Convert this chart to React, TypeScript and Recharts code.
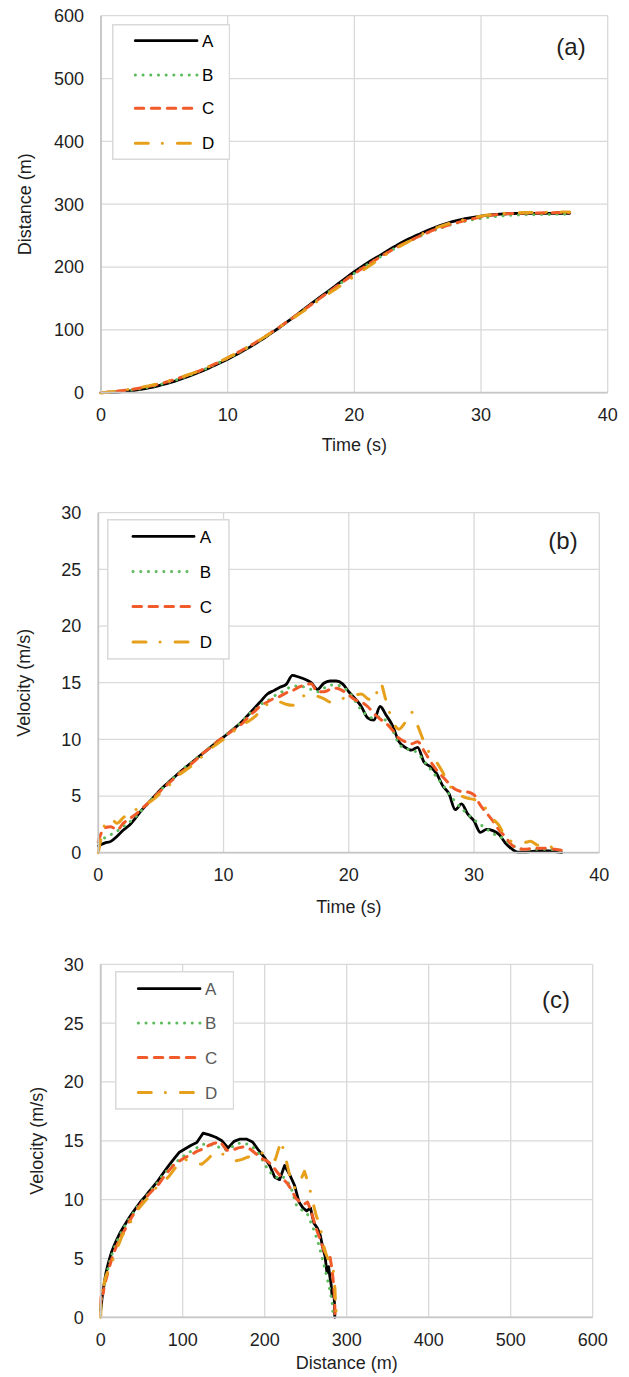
import React from 'react';
import { LineChart, Line, XAxis, YAxis, CartesianGrid, Legend } from 'recharts';

const FONT = '"Liberation Sans", Arial, Helvetica, sans-serif';

// time grid (s)
const TIME = [
  0, 0.5, 1, 1.5, 2, 2.5, 3, 3.5, 4, 4.5,
  5, 5.5, 6, 6.5, 7, 7.5, 8, 8.5, 9, 9.5,
  10, 10.5, 11, 11.5, 12, 12.5, 13, 13.5, 14, 14.5,
  15, 15.5, 16, 16.5, 17, 17.5, 18, 18.5, 19, 19.5,
  20, 20.5, 21, 21.5, 22, 22.5, 23, 23.5, 24, 24.5,
  25, 25.5, 26, 26.5, 27, 27.5, 28, 28.5, 29, 29.5,
  30, 30.5, 31, 31.5, 32, 32.5, 33, 33.5, 34, 34.5,
  35, 35.5, 36, 36.5, 37,
];

// distance (m)
const A_DIST = [
  0, 0.4, 0.8, 1.4, 2.3, 3.4, 4.8, 6.5, 8.5, 10.9,
  13.5, 16.4, 19.6, 23.0, 26.7, 30.6, 34.7, 39.0, 43.6, 48.4,
  53.4, 58.6, 64.0, 69.7, 75.7, 82.0, 88.6, 95.5, 102.6, 109.8,
  117.2, 124.8, 132.6, 140.3, 147.9, 155.3, 162.6, 170.1, 177.7, 185.2,
  192.5, 199.5, 206.1, 212.3, 218.2, 224.3, 230.6, 236.5, 241.8, 246.6,
  251.2, 255.8, 260.1, 264.0, 267.7, 270.9, 273.6, 275.9, 277.9, 279.6,
  281.0, 282.2, 283.2, 284.1, 284.8, 285.2, 285.4, 285.5, 285.5, 285.5,
  285.5, 285.5, 285.5, 285.5, 285.5,
];
const B_DIST = [
  0, 0.6, 1.3, 2.2, 3.2, 4.4, 5.9, 7.7, 9.7, 12.1,
  14.7, 17.6, 20.8, 24.2, 27.9, 31.8, 35.9, 40.2, 44.8, 49.6,
  54.6, 59.8, 65.2, 70.9, 76.9, 83.1, 89.5, 96.1, 102.9, 109.9,
  117.0, 124.3, 131.6, 139.0, 146.3, 153.5, 160.7, 168.0, 175.4, 182.8,
  190.0, 196.9, 203.4, 209.6, 215.6, 221.6, 227.5, 233.1, 238.2, 242.9,
  247.4, 251.9, 256.1, 260.0, 263.5, 266.7, 269.5, 272.0, 274.1, 275.9,
  277.5, 278.9, 280.1, 281.1, 281.9, 282.5, 282.9, 283.1, 283.3, 283.4,
  283.6, 283.7, 283.9, 284.0, 284.1,
];
const C_DIST = [
  0, 0.8, 1.9, 3.0, 4.2, 5.6, 7.2, 9.0, 11.1, 13.5,
  16.1, 19.0, 22.1, 25.5, 29.1, 32.9, 36.9, 41.2, 45.7, 50.5,
  55.5, 60.7, 66.1, 71.7, 77.5, 83.6, 90.0, 96.6, 103.3, 110.2,
  117.2, 124.3, 131.5, 138.8, 146.2, 153.5, 160.6, 167.8, 175.0, 182.2,
  189.3, 196.1, 202.8, 209.3, 215.6, 221.6, 227.4, 232.9, 238.1, 243.0,
  247.8, 252.3, 256.6, 260.5, 264.0, 267.2, 270.1, 272.7, 275.1, 277.5,
  279.8, 281.7, 283.0, 284.0, 284.8, 285.3, 285.6, 285.8, 285.9, 286.1,
  286.3, 286.5, 286.7, 286.8, 286.9,
];
const D_DIST = [
  0, 0.7, 2.0, 3.4, 4.8, 6.4, 8.1, 10.0, 12.1, 14.4,
  16.9, 19.6, 22.6, 25.9, 29.4, 33.1, 37.1, 41.4, 45.9, 50.6,
  55.6, 60.8, 66.1, 71.7, 77.5, 83.5, 89.8, 96.3, 103.0, 109.8,
  116.4, 123.2, 130.0, 137.0, 144.1, 151.1, 158.0, 164.8, 171.6, 178.4,
  185.3, 192.2, 199.2, 206.1, 212.9, 220.0, 226.3, 232.0, 237.4, 242.8,
  248.5, 254.0, 258.7, 262.6, 266.2, 269.4, 272.2, 274.7, 277.0, 279.1,
  281.0, 282.7, 284.0, 285.0, 285.7, 286.2, 286.5, 286.7, 286.9, 287.1,
  287.2, 287.3, 287.4, 287.5, 287.5,
];

// velocity (m/s)
const A_VEL = [
  0.6, 0.85, 1.0, 1.45, 2.0, 2.45, 3.1, 3.8, 4.4, 5.0,
  5.6, 6.1, 6.6, 7.1, 7.55, 8.0, 8.45, 8.9, 9.35, 9.8,
  10.2, 10.65, 11.1, 11.6, 12.2, 12.8, 13.4, 14.0, 14.3, 14.6,
  14.85, 15.65, 15.5, 15.3, 15.0, 14.4, 14.95, 15.15, 15.15, 14.9,
  14.2, 13.6, 12.9, 11.9, 11.7, 12.9, 12.1, 11.2, 9.8, 9.3,
  9.05, 9.3, 8.0, 7.6, 7.0, 5.9, 5.2, 3.8, 4.3, 3.4,
  2.8, 1.8, 2.05, 1.95, 1.6, 0.85, 0.35, 0.05, 0.05, 0.1,
  0.15, 0.17, 0.15, 0.1, 0.0,
];
const B_VEL = [
  0.9, 1.3, 1.6, 1.9, 2.3, 2.7, 3.2, 3.8, 4.4, 5.0,
  5.55, 6.1, 6.6, 7.1, 7.6, 8.0, 8.5, 8.9, 9.4, 9.8,
  10.2, 10.7, 11.1, 11.6, 12.2, 12.6, 13.1, 13.4, 13.8, 14.1,
  14.4, 14.7, 14.7, 14.6, 14.4, 14.2, 14.5, 14.8, 14.8, 14.6,
  14.2, 13.4, 12.6, 12.1, 11.85, 12.0, 11.6, 10.8, 9.6, 9.2,
  9.05, 8.8, 8.1, 7.4, 6.7, 6.0, 5.2, 4.5, 3.9, 3.4,
  2.9, 2.5, 2.1, 1.7, 1.45, 1.1, 0.7, 0.4, 0.3, 0.3,
  0.3, 0.3, 0.3, 0.25, 0.2,
];
const C_VEL = [
  1.0, 2.2, 2.3, 2.0, 2.6, 3.0, 3.4, 3.9, 4.4, 4.95,
  5.5, 6.0, 6.5, 7.0, 7.4, 7.9, 8.4, 8.9, 9.3, 9.8,
  10.2, 10.6, 11.0, 11.4, 12.0, 12.5, 13.0, 13.3, 13.6, 13.8,
  14.1, 14.3, 14.6, 14.8, 14.9, 14.2, 14.2, 14.4, 14.5, 14.3,
  13.9, 13.5, 13.3, 12.9, 12.3, 11.8, 11.4, 10.8, 10.1, 9.8,
  9.6, 9.8, 9.0, 8.1, 7.3, 6.7, 6.1, 5.6, 5.4, 5.35,
  5.1, 4.2, 3.5, 2.8, 2.0, 1.4, 0.7, 0.4, 0.3, 0.35,
  0.4, 0.4, 0.35, 0.3, 0.2,
];
const D_VEL = [
  0.0, 2.4, 3.0, 2.6, 3.1, 3.5, 3.8, 4.2, 4.4, 4.8,
  5.3, 5.8, 6.3, 6.9, 7.3, 7.7, 8.2, 8.7, 9.2, 9.6,
  10.0, 10.4, 10.9, 11.3, 11.6, 12.0, 12.6, 13.1, 13.4, 13.3,
  13.1, 13.0, 13.4, 13.9, 14.0, 13.8, 13.6, 13.3, 13.4, 13.6,
  13.7, 13.9, 14.0, 13.6, 13.4, 15.0, 13.3, 11.6, 10.9, 11.5,
  12.4, 11.2, 9.8, 8.7, 8.0, 7.1, 6.0, 5.4, 5.0, 4.8,
  4.7, 4.5, 3.8, 3.0, 2.4, 1.4, 1.0, 0.9, 0.9, 1.0,
  0.7, 0.5, 0.5, 0.45, 0.3,
];

const SERIES_NAMES = ['A', 'B', 'C', 'D'];
const TIME_TICKS = [0, 10, 20, 30, 40];
const DIST_TICKS_A = [0, 100, 200, 300, 400, 500, 600];
const VEL_TICKS = [0, 5, 10, 15, 20, 25, 30];
const DIST_TICKS_C = [0, 100, 200, 300, 400, 500, 600];

const DIST: Record<string, number[]> = { A: A_DIST, B: B_DIST, C: C_DIST, D: D_DIST };
const VEL: Record<string, number[]> = { A: A_VEL, B: B_VEL, C: C_VEL, D: D_VEL };

const STYLE: Record<string, { stroke: string; width: number; dash?: string; cap: 'round' | 'butt' }> = {
  A: { stroke: '#000000', width: 2.8, cap: 'round' },
  B: { stroke: '#5cbb5c', width: 3, dash: '0.1 7.6', cap: 'round' },
  C: { stroke: '#f15a29', width: 3, dash: '8.5 7.5', cap: 'round' },
  D: { stroke: '#e6a01c', width: 3, dash: '13 14 0.1 15', cap: 'round' },
};

const distRows = TIME.map((t, i) => ({ t, A: A_DIST[i], B: B_DIST[i], C: C_DIST[i], D: D_DIST[i] }));
const velRows = TIME.map((t, i) => ({ t, A: A_VEL[i], B: B_VEL[i], C: C_VEL[i], D: D_VEL[i] }));
const phaseRows: Record<string, { x: number; y: number }[]> = {};
SERIES_NAMES.forEach((n) => {
  phaseRows[n] = TIME.map((_, i) => ({ x: DIST[n][i], y: VEL[n][i] }));
});

const GRID = '#d9d9d9';
const AXIS = '#c6c6c6';
const TXT = '#1f1f1f';

type LegendGeom = { w: number; h: number; ys: number[]; x1: number; x2: number; lx: number; color: string };

function LegendBox({ g }: { g: LegendGeom }) {
  return (
    <svg width={g.w} height={g.h} style={{ display: 'block' }}>
      <rect x={0.75} y={0.75} width={g.w - 1.5} height={g.h - 1.5} fill="#ffffff" stroke={GRID} strokeWidth={1.5} />
      {SERIES_NAMES.map((n, i) => {
        const s = STYLE[n];
        return (
          <g key={n}>
            <line x1={g.x1} x2={g.x2} y1={g.ys[i]} y2={g.ys[i]} stroke={s.stroke} strokeWidth={s.width}
              strokeDasharray={s.dash} strokeLinecap={s.cap} />
            <text x={g.lx} y={g.ys[i]} dy="0.36em" fontSize={17} fontFamily={FONT} fill={g.color}>{n}</text>
          </g>
        );
      })}
    </svg>
  );
}

type PanelProps = {
  top: number; height: number;
  margin: { top: number; right: number; bottom: number; left: number };
  yWidth: number; xHeight: number;
  xKey: string; xDomain: [number, number]; xTicks: number[]; xTitle: string; xTitleOffset: number;
  yDomain: [number, number]; yTicks: number[]; yTitle: string; yTitleX: number;
  legend: LegendGeom; legendLeft: number; legendTop: number;
  tag: string; tagX: number; tagY: number;
  children: React.ReactNode;
  data?: any[];
};

function Panel(p: PanelProps) {
  return (
    <div style={{ position: 'absolute', left: 0, top: p.top, width: 629, height: p.height }}>
      <LineChart width={629} height={p.height} data={p.data} margin={p.margin}>
        <CartesianGrid stroke={GRID} strokeWidth={1.3} />
        <XAxis type="number" dataKey={p.xKey} domain={p.xDomain} ticks={p.xTicks} interval={0}
          height={p.xHeight} tickLine={false} tickSize={0} tickMargin={16}
          axisLine={{ stroke: AXIS, strokeWidth: 1.8 }}
          tick={{ fontSize: 18, fill: TXT, fontFamily: FONT }}
          label={{ value: p.xTitle, position: 'insideTop', offset: p.xTitleOffset, fontSize: 18, fill: TXT, fontFamily: FONT }} />
        <YAxis type="number" domain={p.yDomain} ticks={p.yTicks} interval={0} width={p.yWidth}
          tickLine={false} tickSize={0} tickMargin={17}
          axisLine={{ stroke: AXIS, strokeWidth: 1.8 }}
          tick={{ fontSize: 18, fill: TXT, fontFamily: FONT }}
          label={{ value: p.yTitle, angle: -90, position: 'insideLeft', offset: p.yTitleX, fontSize: 18, fill: TXT, fontFamily: FONT, style: { textAnchor: 'middle' } }} />
        {p.children}
        <Legend layout="vertical" align="center" verticalAlign="middle"
          wrapperStyle={{ left: p.legendLeft, top: p.legendTop, width: p.legend.w, height: p.legend.h }}
          content={() => <LegendBox g={p.legend} />} />
      </LineChart>
      <div style={{ position: 'absolute', left: p.tagX, top: p.tagY, fontFamily: FONT, fontSize: 24, color: TXT, lineHeight: '28px', transform: 'translate(-50%, -50%)' }}>{p.tag}</div>
    </div>
  );
}

function seriesLines() {
  return SERIES_NAMES.map((n) => {
    const s = STYLE[n];
    return (
      <Line key={n} dataKey={n} type="monotone" stroke={s.stroke} strokeWidth={s.width}
        strokeDasharray={s.dash} strokeLinecap={s.cap} strokeLinejoin="round"
        dot={false} activeDot={false} isAnimationActive={false} name={n} />
    );
  });
}

export default function App() {
  return (
    <div style={{ position: 'absolute', left: 0, top: 0, width: 629, height: 1377, background: '#ffffff', fontFamily: FONT }}>
      <Panel top={0} height={470} data={distRows}
        margin={{ top: 15.7, right: 21.3, bottom: 7.3, left: 0 }} yWidth={101} xHeight={70}
        xKey="t" xDomain={[0, 40]} xTicks={TIME_TICKS} xTitle="Time (s)" xTitleOffset={46}
        yDomain={[0, 600]} yTicks={DIST_TICKS_A} yTitle="Distance (m)" yTitleX={25}
        legend={{ w: 118.3, h: 136, ys: [16.7, 51, 84.3, 119.3], x1: 23.3, x2: 85, lx: 90, color: '#000000' }}
        legendLeft={111.7} legendTop={24}
        tag="(a)" tagX={571} tagY={47}>
        {seriesLines()}
      </Panel>
      <Panel top={470} height={460} data={velRows}
        margin={{ top: 42.7, right: 29.7, bottom: 7.3, left: 0 }} yWidth={98.3} xHeight={70}
        xKey="t" xDomain={[0, 40]} xTicks={TIME_TICKS} xTitle="Time (s)" xTitleOffset={48}
        yDomain={[0, 30]} yTicks={VEL_TICKS} yTitle="Velocity (m/s)" yTitleX={24}
        legend={{ w: 122.7, h: 140.7, ys: [17.4, 52.4, 87.4, 123], x1: 26, x2: 87, lx: 92.7, color: '#000000' }}
        legendLeft={107.3} legendTop={49.3}
        tag="(b)" tagX={563} tagY={71}>
        {seriesLines()}
      </Panel>
      <Panel top={930} height={447}
        margin={{ top: 34.3, right: 36.3, bottom: 2, left: 0 }} yWidth={100.7} xHeight={57.7}
        xKey="x" xDomain={[0, 600]} xTicks={DIST_TICKS_C} xTitle="Distance (m)" xTitleOffset={39}
        yDomain={[0, 30]} yTicks={VEL_TICKS} yTitle="Velocity (m/s)" yTitleX={37}
        legend={{ w: 119.3, h: 138.7, ys: [17.7, 52, 86.4, 121.4], x1: 23.3, x2: 85, lx: 90, color: '#595959' }}
        legendLeft={115} legendTop={41.3}
        tag="(c)" tagX={556} tagY={70}>
        {SERIES_NAMES.map((n) => {
          const s = STYLE[n];
          return (
            <Line key={n} data={phaseRows[n]} dataKey="y" type="linear" stroke={s.stroke} strokeWidth={s.width}
              strokeDasharray={s.dash} strokeLinecap={s.cap} strokeLinejoin="round"
              dot={false} activeDot={false} isAnimationActive={false} name={n} />
          );
        })}
      </Panel>
    </div>
  );
}
